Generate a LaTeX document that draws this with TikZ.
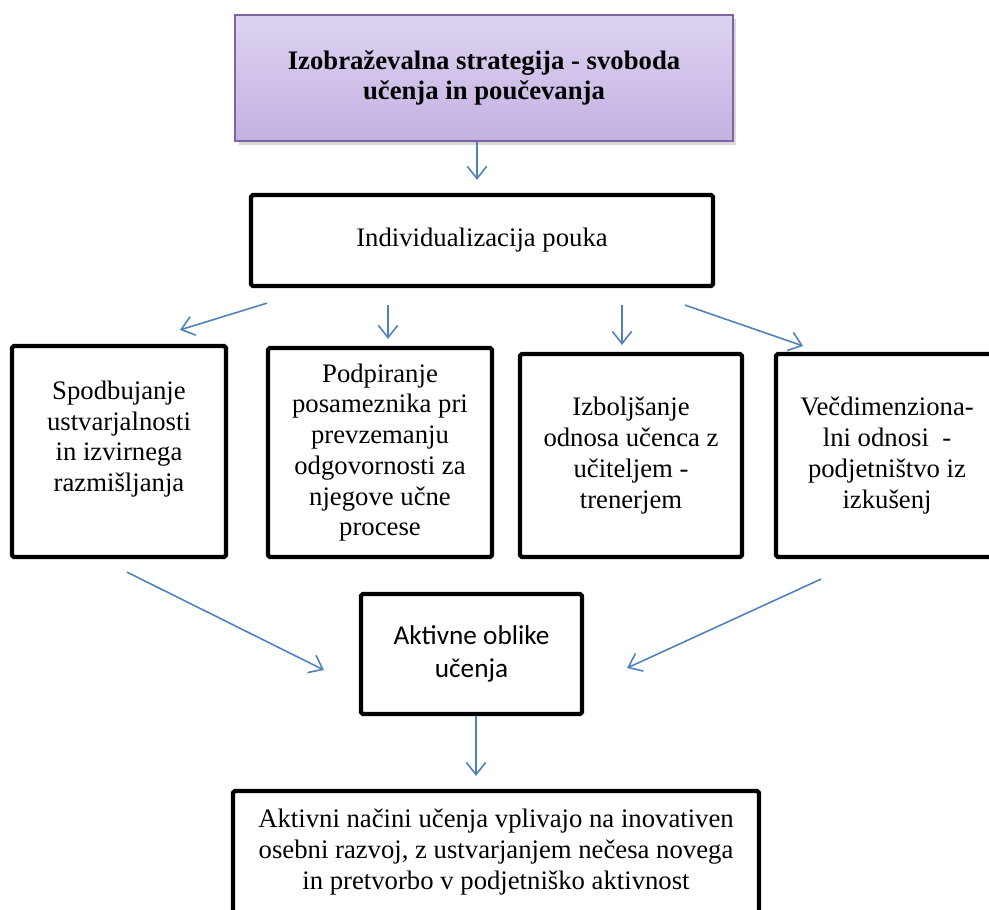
\documentclass[tikz,border=0pt]{standalone}
\usepackage{fontspec}
\setmainfont{Liberation Serif}
\newfontfamily\calibrifont{Carlito}
\usetikzlibrary{arrows.meta,shadows}
\definecolor{flowblue}{HTML}{4F81BD}
\definecolor{stratedge}{HTML}{8064A2}
\definecolor{strattop}{HTML}{DDD3EF}
\definecolor{stratbot}{HTML}{C4B1E3}
\tikzset{
  stratbox/.style={draw=stratedge, line width=1.1pt, top color=strattop, bottom color=stratbot,
    drop shadow={shadow xshift=2pt, shadow yshift=-2pt, fill=black!30},
    align=center, inner sep=0pt, font=\fontsize{15.2}{17.5}\selectfont\bfseries},
  blackbox/.style={draw=black, line width=2.4pt, rounded corners=1pt, fill=white,
    align=center, inner sep=0pt, font=\fontsize{15.2}{17.5}\selectfont},
  flow/.style={-{Straight Barb[length=7pt,width=11pt]}, flowblue, line width=0.9pt},
}
\begin{document}
\begin{tikzpicture}[x=0.02cm, y=-0.02cm]
  \useasboundingbox (0,0) rectangle (989,909);

  % strategija
  \node[stratbox, minimum width=9.96cm, minimum height=2.52cm] (strat) at (484,78)
    {Izobraževalna strategija - svoboda\\učenja in poučevanja};
  \node[blackbox, minimum width=9.24cm, minimum height=1.82cm] (indiv) at (482,240.5)
    {Individualizacija pouka};

  % stiri veje
  \node[blackbox, minimum width=4.28cm, minimum height=4.22cm] (spod) at (119,451.5)
    {Spodbujanje\\ustvarjalnosti\\in izvirnega\\razmišljanja\\ };
  \node[blackbox, minimum width=4.48cm, minimum height=4.18cm] (podp) at (380,452.5)
    {Podpiranje\\posameznika pri\\prevzemanju\\odgovornosti za\\njegove učne\\procese};
  \node[blackbox, minimum width=4.44cm, minimum height=4.06cm] (izbo) at (631,455.5)
    {Izboljšanje\\odnosa učenca z\\učiteljem -\\trenerjem};
  \node[blackbox, minimum width=4.44cm, minimum height=4.06cm] (vecd) at (887,455.5)
    {Večdimenziona-\\lni odnosi\ \ -\\podjetništvo iz\\izkušenj};

  % aktivne oblike
  \node[blackbox, minimum width=4.42cm, minimum height=2.40cm,
        font=\calibrifont\fontsize{15.5}{18.5}\selectfont] (aktiv) at (471.5,654)
    {Aktivne oblike\\učenja};
  \node[blackbox, minimum width=10.52cm, minimum height=2.44cm] (razvoj) at (496,852)
    {Aktivni načini učenja vplivajo na inovativen\\osebni razvoj, z ustvarjanjem nečesa novega\\in pretvorbo v podjetniško aktivnost};

  % puscice
  \draw[flow] ([xshift=-0.14cm]strat.south) -- ([xshift=-0.1cm,yshift=0.26cm]indiv.north);
  \draw[flow] ([xshift=-4.3cm,yshift=-0.3cm]indiv.south) -- ([xshift=1.22cm,yshift=0.28cm]spod.north);
  \draw[flow] ([xshift=-1.88cm,yshift=-0.34cm]indiv.south) -- ([xshift=0.16cm,yshift=0.14cm]podp.north);
  \draw[flow] ([xshift=2.8cm,yshift=-0.34cm]indiv.south) -- ([xshift=-0.18cm,yshift=0.14cm]izbo.north);
  \draw[flow] ([xshift=4.06cm,yshift=-0.34cm]indiv.south) -- ([xshift=-1.68cm,yshift=0.12cm]vecd.north);
  \draw[flow] ([xshift=0.16cm,yshift=-0.26cm]spod.south) -- ([xshift=-0.7cm,yshift=-0.32cm]aktiv.west);
  \draw[flow] ([xshift=-1.32cm,yshift=-0.4cm]vecd.south) -- ([xshift=0.86cm,yshift=-0.28cm]aktiv.east);
  \draw[flow] ([xshift=0.09cm]aktiv.south) -- ([xshift=-0.4cm,yshift=0.26cm]razvoj.north);
\end{tikzpicture}
\end{document}
